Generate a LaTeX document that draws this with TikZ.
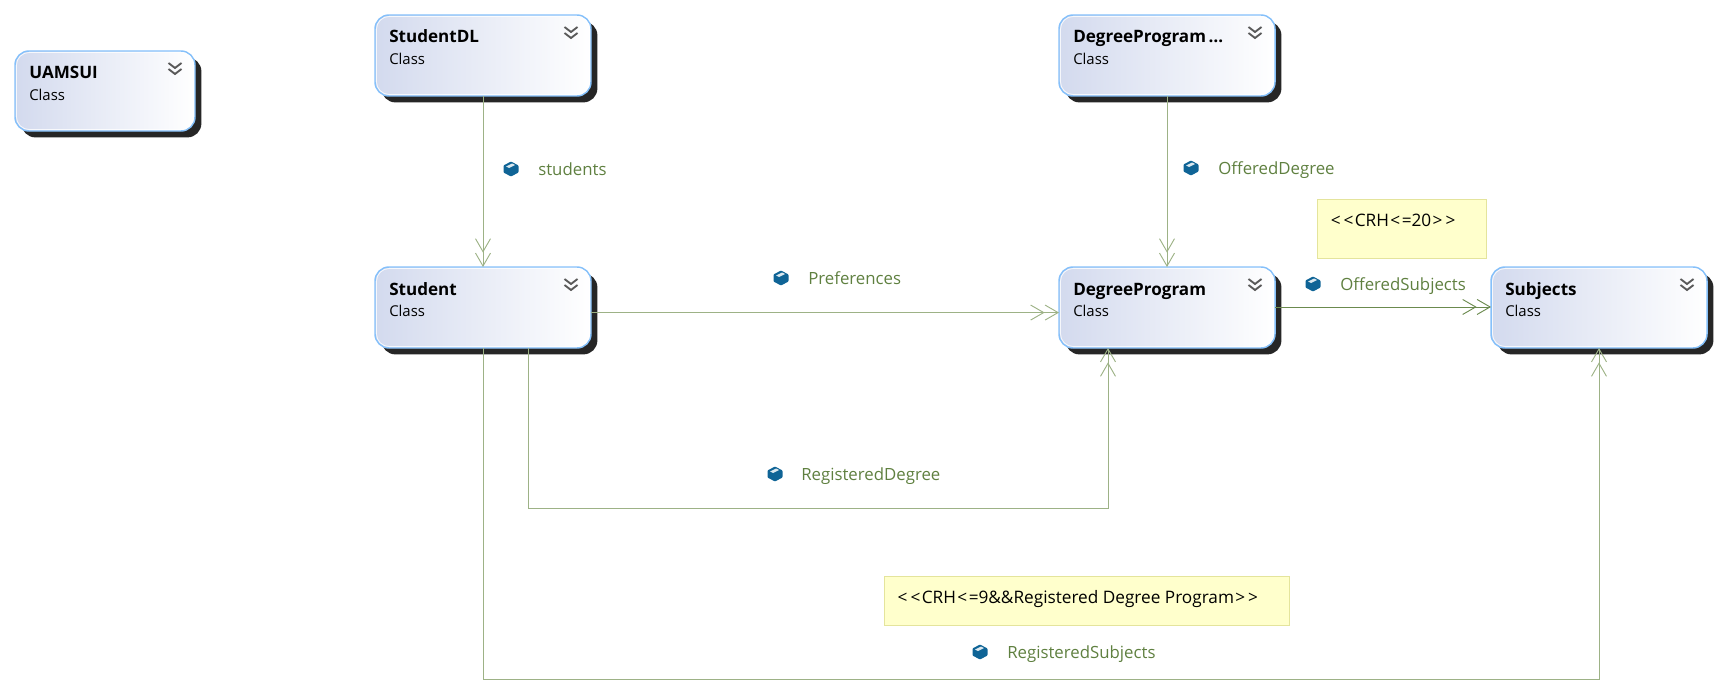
\documentclass[tikz,border=0pt]{standalone}
\usepackage{fontspec}
\setmainfont{Open Sans}
\usetikzlibrary{arrows.meta,shadows,calc}
\definecolor{edgeC}{HTML}{9DB286}
\definecolor{edgeD}{HTML}{6B8A4E}
\definecolor{labelC}{HTML}{5F8040}
\definecolor{boxL}{HTML}{D3DAEE}
\definecolor{boxB}{HTML}{85C0FA}
\definecolor{shadowC}{HTML}{262626}
\definecolor{noteF}{HTML}{FFFFCC}
\definecolor{noteB}{HTML}{E4E49C}
\definecolor{iconC}{HTML}{0F6496}
\definecolor{chevC}{HTML}{5A5A5A}
\tikzset{
  x=0.75pt,y=-0.75pt,
  classbox/.style={draw=boxB,line width=1.1pt,rounded corners=10.5pt,left color=boxL,right color=white,
    inner sep=0pt,outer sep=0pt,drop shadow={shadow xshift=4.8pt,shadow yshift=-4.8pt,fill=shadowC,opacity=1}},
  titletext/.style={anchor=base west,inner sep=0pt,font=\fontsize{12.8}{15}\selectfont\bfseries,text=black},
  subtext/.style={anchor=base west,inner sep=0pt,font=\fontsize{11.2}{13}\selectfont,text=black},
  edgelabel/.style={anchor=base west,inner sep=0pt,font=\fontsize{12.6}{14}\selectfont,text=labelC},
  notebox/.style={draw=noteB,fill=noteF,line width=0.75pt,inner sep=0pt,outer sep=0pt},
  notetext/.style={anchor=base west,inner sep=0pt,font=\fontsize{12.9}{15}\selectfont,text=black},
  conn/.style={draw=edgeC,line width=0.75pt,-{Straight Barb[length=9.75pt,width=11.25pt,line width=0.7pt]Straight Barb[length=9.75pt,width=11.25pt,line width=0.7pt]}},
  bluebox/.pic={
    \fill[iconC,rounded corners=0.6pt] (-7.5,-3.5) -- (0,-7.5) -- (7.5,-3.5) -- (7.5,3.5) -- (0,7.5) -- (-7.5,3.5) -- cycle;
    \fill[white!85!iconC] (-5,-2.5) -- (1,-5.5) -- (4,-4) -- (-2,-1) -- cycle;
  },
  chev/.pic={
    \draw[chevC,line width=1.4pt] (-6.5,-6) -- (0,-1) -- (6.5,-6);
    \draw[chevC,line width=1.4pt] (-6.5,0) -- (0,5) -- (6.5,0);
  }
}
\newcommand{\ltc}{\kern1.1pt<\kern1.1pt}
\newcommand{\gtc}{\kern1.1pt>\kern1.1pt}
% name, left, top, width, height, title
\newcommand{\classnode}[6]{%
  \node[classbox,minimum width=#4*0.75pt,minimum height=#5*0.75pt,anchor=north west] (#1) at (#2,#3) {};
  \draw[white,opacity=0.8,line width=0.6pt,rounded corners=9.5pt] (#2+1.5,#3+1.5) rectangle (#2+#4-1.5,#3+#5-1.5);
  \node[titletext] (#1t) at (#2+14,#3+28) {#6};
  \node[subtext] (#1c) at (#2+14,#3+49.5) {Class};
  \pic at (#2+#4-20,#3+18) {chev};
}
\newcommand{\edgelab}[5]{%
  \pic at (#2,#3) {bluebox};
  \node[edgelabel] (#1) at (#4,#3+6) {#5};
}
\begin{document}
\begin{tikzpicture}
\useasboundingbox (0,0) rectangle (1720,692);
% notes
\node[notebox,minimum width=169*0.75pt,minimum height=59*0.75pt,anchor=north west] (n1) at (1317,199) {};
\node[notetext] (n1t) at (1329,226) {\ltc\ltc CRH\ltc=20\gtc\gtc};
\node[notebox,minimum width=405*0.75pt,minimum height=49*0.75pt,anchor=north west] (n2) at (884,576) {};
\node[notetext] (n2t) at (896,603) {\ltc\ltc CRH\ltc=9\&\&Registered Degree Program\gtc\gtc};
% classes
\classnode{ui}{15}{51}{180}{80}{UAMSUI}
\classnode{dl}{375}{15}{216}{81}{StudentDL}
\classnode{dm}{1059}{15}{216}{81}{DegreeProgram\kern2pt…}
\classnode{st}{375}{267}{216}{81}{Student}
\classnode{dp}{1059}{267}{216}{81}{DegreeProgram}
\classnode{su}{1491}{267}{216}{81}{Subjects}
% connectors
\draw[conn] (dl.south) -- (st.north);
\draw[conn] (dm.south) -- (dp.north);
\draw[conn] ([yshift=-3.8pt]st.east) -- ([yshift=-3.8pt]dp.west);
\draw[conn,draw=edgeD,line width=0.6pt] ([yshift=0.4pt]dp.east) -- ([yshift=0.4pt]su.west);
\draw[conn] ([xshift=33.75pt]st.south) -- ++(0,160) -| ([xshift=-44.25pt]dp.south);
\draw[conn] (st.south) -- ++(0,331) -| (su.south);
% labels
\edgelab{l1}{511}{169}{538}{students}
\edgelab{l2}{781}{278}{808}{Preferences}
\edgelab{l3}{1191}{168}{1218}{OfferedDegree}
\edgelab{l4}{1313}{284}{1340}{OfferedSubjects}
\edgelab{l5}{775}{474}{801}{RegisteredDegree}
\edgelab{l6}{980}{652}{1007}{RegisteredSubjects}
\end{tikzpicture}
\end{document}
